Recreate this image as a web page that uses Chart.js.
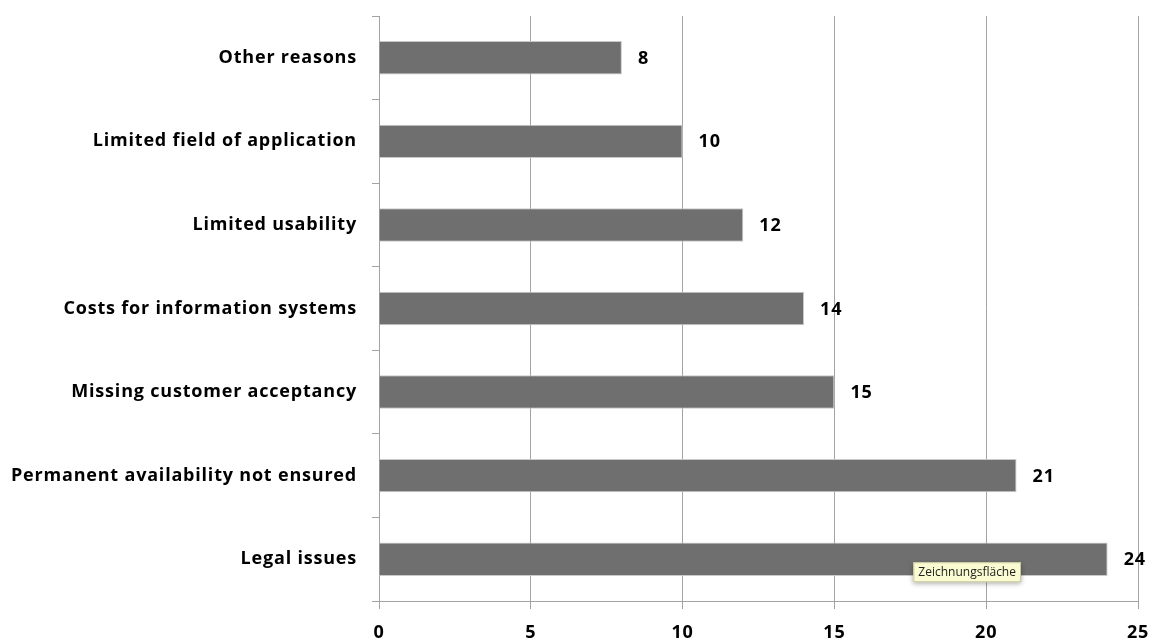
<!DOCTYPE html>
<html>
<head>
<meta charset="utf-8">
<script src="https://cdn.jsdelivr.net/npm/chart.js@4"></script>
<style>
  html, body { margin: 0; padding: 0; background: #fff; }
  #wrap { width: 1154px; height: 641px; position: relative; }
</style>
</head>
<body>
<div id="wrap"><canvas id="chart"></canvas></div>
<script>
const categorias = [
    'Other reasons',
    'Limited field of application',
    'Limited usability',
    'Costs for information systems',
    'Missing customer acceptancy',
    'Permanent availability not ensured',
    'Legal issues'
];
const valores = [8, 10, 12, 14, 15, 21, 24];
const ticksX = [0, 5, 10, 15, 20, 25];
const dica = 'Zeichnungsfläche';

const fonte = '"Open Sans", "Liberation Sans", sans-serif';
const espaco = '0.8px';

// espacamento entre letras (o canvas perde o estado ao redimensionar)
const espacoPlugin = {
    id: 'espaco',
    beforeLayout(chart) { chart.ctx.letterSpacing = espaco; },
    beforeDraw(chart) { chart.ctx.letterSpacing = espaco; }
};

// rotulos de valor ao lado das barras
const rotulosPlugin = {
    id: 'rotulos',
    afterDatasetsDraw(chart) {
        const ctx = chart.ctx;
        const meta = chart.getDatasetMeta(0);
        ctx.save();
        ctx.font = 'bold 18px ' + fonte;
        ctx.fillStyle = '#000';
        ctx.textAlign = 'left';
        ctx.textBaseline = 'middle';
        meta.data.forEach((bar, i) => {
            ctx.fillText(String(valores[i]), bar.x + 16, bar.y + 1);
        });
        ctx.restore();
    }
};

// caixinha amarela "Zeichnungsfläche"
const dicaPlugin = {
    id: 'dica',
    afterDraw(chart) {
        const ctx = chart.ctx;
        const x = chart.scales.x.getPixelForValue(17.6);
        const y = chart.scales.y.getPixelForValue(6) + 3;
        ctx.save();
        ctx.letterSpacing = '0px';
        ctx.font = '12px ' + fonte;
        const w = ctx.measureText(dica).width + 10;
        ctx.shadowColor = 'rgba(0,0,0,0.35)';
        ctx.shadowBlur = 5;
        ctx.shadowOffsetY = 2;
        ctx.fillStyle = '#fbfbd2';
        ctx.fillRect(x, y, w, 20);
        ctx.shadowColor = 'transparent';
        ctx.strokeStyle = '#c8c8a0';
        ctx.lineWidth = 1;
        ctx.strokeRect(x + 0.5, y + 0.5, w - 1, 19);
        ctx.fillStyle = '#222';
        ctx.textBaseline = 'middle';
        ctx.fillText(dica, x + 5, y + 10.5);
        ctx.restore();
    }
};

new Chart(document.getElementById('chart'), {
    type: 'bar',
    data: {
        labels: categorias,
        datasets: [{
            data: valores,
            backgroundColor: '#6f6f6f',
            borderColor: '#c9c9c9',
            borderWidth: 1,
            categoryPercentage: 0.8,
            barPercentage: 0.5
        }]
    },
    options: {
        indexAxis: 'y',
        responsive: true,
        maintainAspectRatio: false,
        animation: false,
        layout: { padding: { top: 16, right: 16, left: 0, bottom: 0 } },
        plugins: {
            legend: { display: false },
            tooltip: { enabled: false }
        },
        scales: {
            x: {
                min: 0,
                max: 25,
                afterBuildTicks: (scale) => { scale.ticks = ticksX.map(v => ({ value: v })); },
                afterFit: (scale) => {
                    scale.height = 40;
                    scale.paddingLeft = 0;
                    scale.paddingRight = 0;
                },
                grid: {
                    color: '#a3a3a3',
                    lineWidth: 1,
                    tickLength: 8,
                    drawOnChartArea: true
                },
                border: { color: '#a3a3a3', width: 1 },
                ticks: {
                    color: '#000',
                    padding: 13,
                    font: { family: fonte, size: 18, weight: 'bold' }
                }
            },
            y: {
                afterFit: (scale) => {
                    scale.width = 379;
                    scale.paddingTop = 0;
                    scale.paddingBottom = 0;
                },
                grid: {
                    color: '#a3a3a3',
                    offset: true,
                    drawOnChartArea: false,
                    tickLength: 7
                },
                border: { color: '#a3a3a3', width: 1 },
                ticks: {
                    color: '#000',
                    padding: 15,
                    font: { family: fonte, size: 18, weight: 'bold' }
                }
            }
        }
    },
    plugins: [espacoPlugin, rotulosPlugin, dicaPlugin]
});
</script>
</body>
</html>
